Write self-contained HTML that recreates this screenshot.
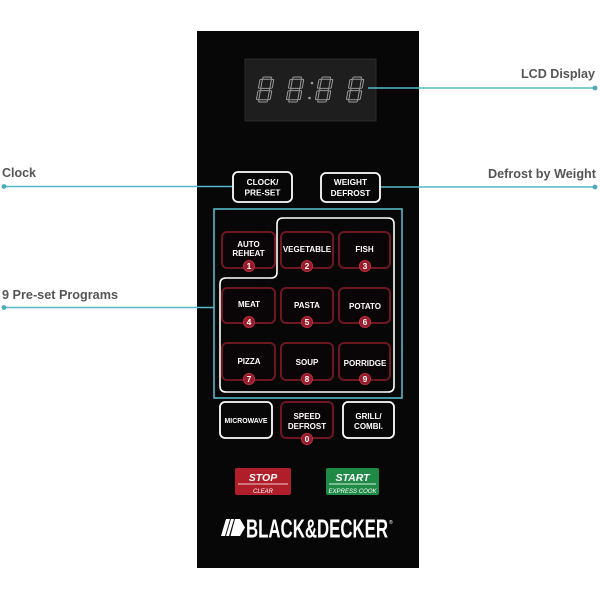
<!DOCTYPE html>
<html><head><meta charset="utf-8"><style>
html,body{margin:0;padding:0;background:#fff;}
svg{display:block;}
text{font-family:"Liberation Sans",sans-serif;}
</style></head><body>
<svg width="600" height="600" viewBox="0 0 600 600" xmlns="http://www.w3.org/2000/svg">
<defs>
<g id="dig" fill="none" stroke="#9a9a9a" stroke-width="1">
<rect x="2.6" y="0" width="8.6" height="2.3" rx="0.8"/>
<rect x="2.6" y="11.35" width="8.6" height="2.3" rx="0.8"/>
<rect x="2.6" y="22.7" width="8.6" height="2.3" rx="0.8"/>
<rect x="0" y="2.4" width="2.4" height="8.8" rx="0.8"/>
<rect x="11.4" y="2.4" width="2.4" height="8.8" rx="0.8"/>
<rect x="0" y="13.8" width="2.4" height="8.8" rx="0.8"/>
<rect x="11.4" y="13.8" width="2.4" height="8.8" rx="0.8"/>
</g>
</defs>
<!-- panel -->
<rect x="197" y="31" width="222" height="537" fill="#070707"/>
<!-- LCD -->
<rect x="245" y="59" width="131" height="62" fill="#1e1e1e" stroke="#2a2a2a" stroke-width="1"/>
<use href="#dig" transform="translate(260.4,77) skewX(-10)"/>
<use href="#dig" transform="translate(290.4,77) skewX(-10)"/>
<use href="#dig" transform="translate(319.4,77) skewX(-10)"/>
<use href="#dig" transform="translate(350.4,77) skewX(-10)"/>
<circle cx="312" cy="83" r="1.3" fill="#9a9a9a"/>
<circle cx="309.5" cy="98" r="1.3" fill="#9a9a9a"/>

<!-- leader lines -->
<g stroke="#56b8c8" stroke-width="1.6">
<line x1="368" y1="88" x2="595" y2="88"/>
<line x1="380" y1="187" x2="595" y2="187"/>
<line x1="4" y1="186.5" x2="233" y2="186.5"/>
<line x1="4" y1="307.5" x2="214" y2="307.5"/>
</g>
<g fill="#4fa9b9">
<circle cx="595" cy="88" r="2.4"/>
<circle cx="595" cy="187" r="2.4"/>
<circle cx="4" cy="186.5" r="2.4"/>
<circle cx="4" cy="307.5" r="2.4"/>
</g>

<!-- labels -->
<g font-weight="bold" font-size="12.5" fill="#555">
<text x="2" y="177" textLength="34" lengthAdjust="spacingAndGlyphs">Clock</text>
<text x="2" y="299" textLength="116" lengthAdjust="spacingAndGlyphs">9 Pre-set Programs</text>
<text x="521" y="78" textLength="74" lengthAdjust="spacingAndGlyphs">LCD Display</text>
<text x="488" y="178" textLength="108" lengthAdjust="spacingAndGlyphs">Defrost by Weight</text>
</g>

<!-- clock / weight buttons -->
<rect x="233" y="172" width="59" height="30" rx="5" fill="#070707" stroke="#fff" stroke-width="1.8"/>
<rect x="321" y="173" width="59" height="29" rx="5" fill="#070707" stroke="#fff" stroke-width="1.8"/>
<g fill="#fff" font-weight="bold" font-size="8.3" text-anchor="middle">
<text x="262.5" y="185">CLOCK/</text>
<text x="262.5" y="195.5">PRE-SET</text>
<text x="350.5" y="185">WEIGHT</text>
<text x="350.5" y="196">DEFROST</text>
</g>

<!-- cyan program box -->
<rect x="214" y="209" width="188" height="189" fill="none" stroke="#56b8c8" stroke-width="1.6"/>
<!-- white L outline -->
<path d="M284,218 H388 Q394,218 394,224 V386 Q394,392 388,392 H226 Q220,392 220,386 V284 Q220,278 226,278 H271 Q277,278 277,272 V224 Q277,218 283,218 Z" fill="none" stroke="#fff" stroke-width="1.6"/>

<!-- red program buttons -->
<g fill="#0a0506" stroke="#6e1622" stroke-width="2">
<rect x="222" y="232" width="53" height="36" rx="5"/>
<rect x="281" y="232" width="52" height="36" rx="5"/>
<rect x="339" y="232" width="51" height="36" rx="5"/>
<rect x="222" y="288" width="53" height="35" rx="5"/>
<rect x="281" y="288" width="52" height="35" rx="5"/>
<rect x="339" y="288" width="51" height="35" rx="5"/>
<rect x="222" y="343" width="53" height="37" rx="5"/>
<rect x="281" y="343" width="52" height="37" rx="5"/>
<rect x="339" y="343" width="51" height="37" rx="5"/>
<rect x="281" y="402" width="52" height="36" rx="5"/>
</g>
<g fill="#fff" font-weight="bold" font-size="8" text-anchor="middle">
<text x="248.5" y="247">AUTO</text>
<text x="248.5" y="256">REHEAT</text>
<text x="307" y="252">VEGETABLE</text>
<text x="364.5" y="252">FISH</text>
<text x="249" y="307">MEAT</text>
<text x="307" y="308">PASTA</text>
<text x="365" y="309">POTATO</text>
<text x="249" y="364">PIZZA</text>
<text x="307" y="365">SOUP</text>
<text x="365" y="366">PORRIDGE</text>
</g>
<g fill="#9a1a2a" stroke="#c23445" stroke-width="0.8">
<circle cx="249" cy="266" r="5.6"/>
<circle cx="307" cy="266" r="5.6"/>
<circle cx="365" cy="266" r="5.6"/>
<circle cx="249" cy="322" r="5.6"/>
<circle cx="307" cy="322" r="5.6"/>
<circle cx="365" cy="322" r="5.6"/>
<circle cx="249" cy="379" r="5.6"/>
<circle cx="307" cy="379" r="5.6"/>
<circle cx="365" cy="379" r="5.6"/>
<circle cx="307" cy="439" r="5.6"/>
</g>
<g fill="#fff" font-weight="bold" font-size="8.5" text-anchor="middle">
<text x="249" y="269.1">1</text>
<text x="307" y="269.1">2</text>
<text x="365" y="269.1">3</text>
<text x="249" y="325.1">4</text>
<text x="307" y="325.1">5</text>
<text x="365" y="325.1">6</text>
<text x="249" y="382.1">7</text>
<text x="307" y="382.1">8</text>
<text x="365" y="382.1">9</text>
<text x="307" y="442.1">0</text>
</g>

<!-- bottom row -->
<rect x="220" y="402" width="52" height="36" rx="5" fill="#070707" stroke="#fff" stroke-width="1.8"/>
<rect x="343" y="402" width="51" height="36" rx="5" fill="#070707" stroke="#fff" stroke-width="1.8"/>
<g fill="#fff" font-weight="bold" font-size="8" text-anchor="middle">
<text x="246" y="423" font-size="7" textLength="43" lengthAdjust="spacingAndGlyphs">MICROWAVE</text>
<text x="307" y="419">SPEED</text>
<text x="307" y="429">DEFROST</text>
<text x="368.5" y="419">GRILL/</text>
<text x="368.5" y="429">COMBI.</text>
</g>

<!-- stop / start -->
<rect x="235" y="468" width="56" height="27" rx="2" fill="#b01e2a"/>
<rect x="326" y="468" width="53" height="27" rx="2" fill="#1f8a46"/>
<line x1="238" y1="484" x2="288" y2="484" stroke="#f2c9cc" stroke-width="1"/>
<line x1="329" y1="484" x2="376" y2="484" stroke="#d8f0df" stroke-width="1"/>
<g fill="#fff" font-weight="bold" font-style="italic" text-anchor="middle">
<text x="263" y="481" font-size="10.5">STOP</text>
<text x="352.5" y="481" font-size="10.5">START</text>
</g>
<g fill="#fff" font-style="italic" text-anchor="middle" font-size="6">
<text x="263" y="493">CLEAR</text>
<text x="352.5" y="493" textLength="48" lengthAdjust="spacingAndGlyphs">EXPRESS COOK</text>
</g>

<!-- logo -->
<g fill="#fff">
<polygon points="221,536 225,536 230,519 226,519"/>
<polygon points="226,536 229,536 234,519 231,519"/>
<polygon points="231,536 234,536 238,526 236,523"/>
<polygon points="235,519 240,519 245,527.5 240,536 230.5,536"/>
</g>
<text x="246" y="537.5" font-size="26" font-weight="bold" fill="#fff" textLength="142" lengthAdjust="spacingAndGlyphs">BLACK&amp;DECKER</text>
<text x="389" y="524" font-size="5" fill="#fff">®</text>
</svg>
</body></html>
